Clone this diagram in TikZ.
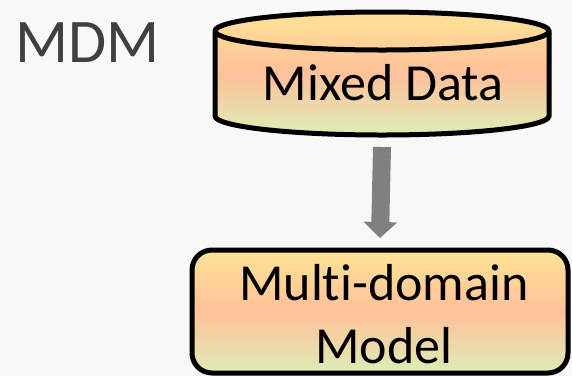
\documentclass[tikz,border=0pt]{standalone}
\usepackage{fontspec}
\setmainfont{Carlito}[Ligatures={NoCommon,NoRare,NoContextual}]
\usetikzlibrary{arrows.meta}
\definecolor{bg}{HTML}{F8F8F8}
\definecolor{gtop}{HTML}{FFE396}
\definecolor{gmid}{HTML}{FFC09A}
\definecolor{gbot}{HTML}{DDEDB5}
\definecolor{titlegray}{HTML}{404040}
\definecolor{arrowgray}{HTML}{808080}
\tikzset{
  warmfill/.style={top color=gtop, bottom color=gbot, middle color=gmid},
  outline/.style={draw=black, line width=5pt},
  bigtext/.style={font=\fontsize{52pt}{63pt}\selectfont, text=black, align=center, inner sep=0pt},
  flowarrow/.style={draw=arrowgray, line width=18pt, -{Triangle[width=33pt,length=16pt]}}
}
\begin{document}
\begin{tikzpicture}[x=1pt,y=1pt]
  % canvas
  \fill[bg] (0,0) rectangle (572,-376);
  \useasboundingbox (0,0) rectangle (572,-376);

  % title
  \node[anchor=base west, inner sep=0pt, text=titlegray,
        font=\fontsize{62pt}{70pt}\selectfont] (title) at (15,-62) {MDM};

  % database cylinder
  \path[warmfill] (215,-31) -- (215,-116) arc[start angle=180, end angle=360, x radius=167, y radius=19]
        -- (549,-31) arc[start angle=0, end angle=180, x radius=167, y radius=19] -- cycle;
  \draw[outline] (215,-31) -- (215,-116) arc[start angle=180, end angle=360, x radius=167, y radius=19]
        -- (549,-31) arc[start angle=0, end angle=180, x radius=167, y radius=19] -- cycle;
  \draw[outline] (215,-31) arc[start angle=180, end angle=360, x radius=167, y radius=19];
  \coordinate (dbbottom) at (382,-135);
  \node[bigtext, anchor=base] (data) at (383,-100) {Mixed Data};

  % model box
  \node[outline, warmfill, rounded corners=20pt, minimum width=376pt, minimum height=123pt,
        inner sep=0pt] (model) at (380,-311.5) {};
  % the kern keeps t and i as separate glyphs
  \node[bigtext, anchor=base] (modeltext1) at (384,-300) {Mult\kern0pt{}i-domain};
  \node[bigtext, anchor=base] (modeltext2) at (384,-363) {Model};

  % flow arrow
  \draw[flowarrow] ([yshift=-12pt]dbbottom) -- ([yshift=9.5pt]model.north);
\end{tikzpicture}
\end{document}
